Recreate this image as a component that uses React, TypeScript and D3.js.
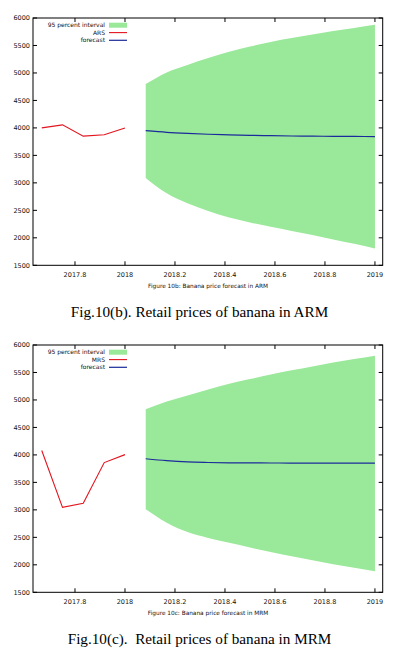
import * as d3 from "d3";

// actual monthly prices (decimal year)
const actualYears = [2017.667, 2017.75, 2017.833, 2017.917, 2018.0];
const arsPrices = [4000, 4055, 3850, 3875, 4000];
const mrsPrices = [4080, 3045, 3120, 3860, 4005];

// forecast months
const forecastYears = [
  2018.083, 2018.167, 2018.25, 2018.333, 2018.417, 2018.5, 2018.583, 2018.667,
  2018.75, 2018.833, 2018.917, 2019.0,
];
const armForecast = [3950, 3920, 3900, 3885, 3875, 3865, 3858, 3853, 3850, 3847, 3845, 3843];
const armUpper = [4800, 5010, 5145, 5270, 5385, 5480, 5565, 5635, 5700, 5762, 5820, 5877];
const armLower = [3090, 2810, 2630, 2490, 2370, 2280, 2200, 2125, 2050, 1970, 1890, 1805];

const mrmForecast = [3930, 3895, 3872, 3862, 3856, 3854, 3853, 3852, 3852, 3852, 3852, 3852];
const mrmUpper = [4830, 4970, 5080, 5190, 5295, 5380, 5465, 5540, 5610, 5680, 5745, 5805];
const mrmLower = [3010, 2765, 2595, 2490, 2400, 2315, 2235, 2155, 2085, 2010, 1945, 1885];

const xTicks = [2017.8, 2018, 2018.2, 2018.4, 2018.6, 2018.8, 2019];
const yTicks = [1500, 2000, 2500, 3000, 3500, 4000, 4500, 5000, 5500, 6000];

const GREEN = "#9ae89a";
const RED = "#e3141e";
const BLUE = "#1a2a9a";
const TICK_FONT = "DejaVu Sans, Verdana, sans-serif";

interface ChartProps {
  top: number;
  seriesName: string;
  actual: number[];
  forecast: number[];
  upper: number[];
  lower: number[];
  subCaption: string;
  caption: string;
  captionY: number;
}

function Chart({ top, seriesName, actual, forecast, upper, lower, subCaption, caption, captionY }: ChartProps) {
  const left = 33;
  const right = 382.7;
  const h = 247.3;
  const bottom = top + h;

  const x = d3.scaleLinear().domain([2017.632, 2019.031]).range([left, right]);
  const y = d3.scaleLinear().domain([1500, 6000]).range([bottom, top]);

  const band = d3
    .area<number>()
    .x((_, i) => x(forecastYears[i]))
    .y0((_, i) => y(lower[i]))
    .y1((d) => y(d))
    .curve(d3.curveMonotoneX);

  const fLine = d3
    .line<number>()
    .x((_, i) => x(forecastYears[i]))
    .y((d) => y(d))
    .curve(d3.curveMonotoneX);

  const aLine = d3
    .line<number>()
    .x((_, i) => x(actualYears[i]))
    .y((d) => y(d));

  const tl = 4;

  return (
    <g>
      <path d={band(upper) ?? ""} fill={GREEN} />
      <path d={fLine(forecast) ?? ""} fill="none" stroke={BLUE} strokeWidth={1.2} />
      <path d={aLine(actual) ?? ""} fill="none" stroke={RED} strokeWidth={1.1} />

      {/* ticks, mirrored inward */}
      {yTicks.map((t) => (
        <g key={"y" + t}>
          <line x1={left} x2={left + tl} y1={y(t)} y2={y(t)} stroke="#000" />
          <line x1={right - tl} x2={right} y1={y(t)} y2={y(t)} stroke="#000" />
          <text
            x={left - 3}
            y={y(t)}
            dy="0.35em"
            textAnchor="end"
            fontSize={6.5}
            fontFamily={TICK_FONT}
            fill="#111"
          >
            {t}
          </text>
        </g>
      ))}
      {xTicks.map((t) => (
        <g key={"x" + t}>
          <line x1={x(t)} x2={x(t)} y1={bottom} y2={bottom - tl} stroke="#000" />
          <line x1={x(t)} x2={x(t)} y1={top} y2={top + tl} stroke="#000" />
          <text
            x={x(t)}
            y={bottom + 11.3}
            textAnchor="middle"
            fontSize={6.5}
            fontFamily={TICK_FONT}
            fill="#111"
          >
            {t}
          </text>
        </g>
      ))}

      <rect x={left} y={top} width={right - left} height={h} fill="none" stroke="#000" strokeWidth={1} />

      {/* legend */}
      <g fontSize={6} fontFamily={TICK_FONT} fill="#111" textAnchor="end">
        <text x={105} y={top + 7.2} dy="0.35em">95 percent interval</text>
        <rect x={109} y={top + 4.7} width={18} height={5} fill={GREEN} />
        <text x={105} y={top + 14.6} dy="0.35em">{seriesName}</text>
        <line x1={109} x2={127} y1={top + 14.6} y2={top + 14.6} stroke={RED} strokeWidth={1.1} />
        <text x={105} y={top + 22.3} dy="0.35em">forecast</text>
        <line x1={109} x2={127} y1={top + 22.3} y2={top + 22.3} stroke={BLUE} strokeWidth={1.2} />
      </g>

      <text
        x={208}
        y={bottom + 22.3}
        textAnchor="middle"
        fontSize={5.8}
        fontFamily={TICK_FONT}
        fill="#111"
      >
        {subCaption}
      </text>

      <text
        x={199.5}
        y={captionY}
        textAnchor="middle"
        fontSize={15.2}
        fontFamily="Liberation Serif, Times New Roman, serif"
        fill="#000"
        style={{ whiteSpace: "pre" }}
      >
        {caption}
      </text>
    </g>
  );
}

export default function App() {
  return (
    <svg
      width={393}
      height={657}
      style={{ position: "absolute", left: 0, top: 0, background: "#fff" }}
    >
      <rect width={393} height={657} fill="#fff" />
      <Chart
        top={18}
        seriesName="ARS"
        actual={arsPrices}
        forecast={armForecast}
        upper={armUpper}
        lower={armLower}
        subCaption="Figure 10b: Banana price forecast in ARM"
        caption="Fig.10(b). Retail prices of banana in ARM"
        captionY={316.5}
      />
      <Chart
        top={345}
        seriesName="MRS"
        actual={mrsPrices}
        forecast={mrmForecast}
        upper={mrmUpper}
        lower={mrmLower}
        subCaption="Figure 10c: Banana price forecast in MRM"
        caption="Fig.10(c).  Retail prices of banana in MRM"
        captionY={644}
      />
    </svg>
  );
}
